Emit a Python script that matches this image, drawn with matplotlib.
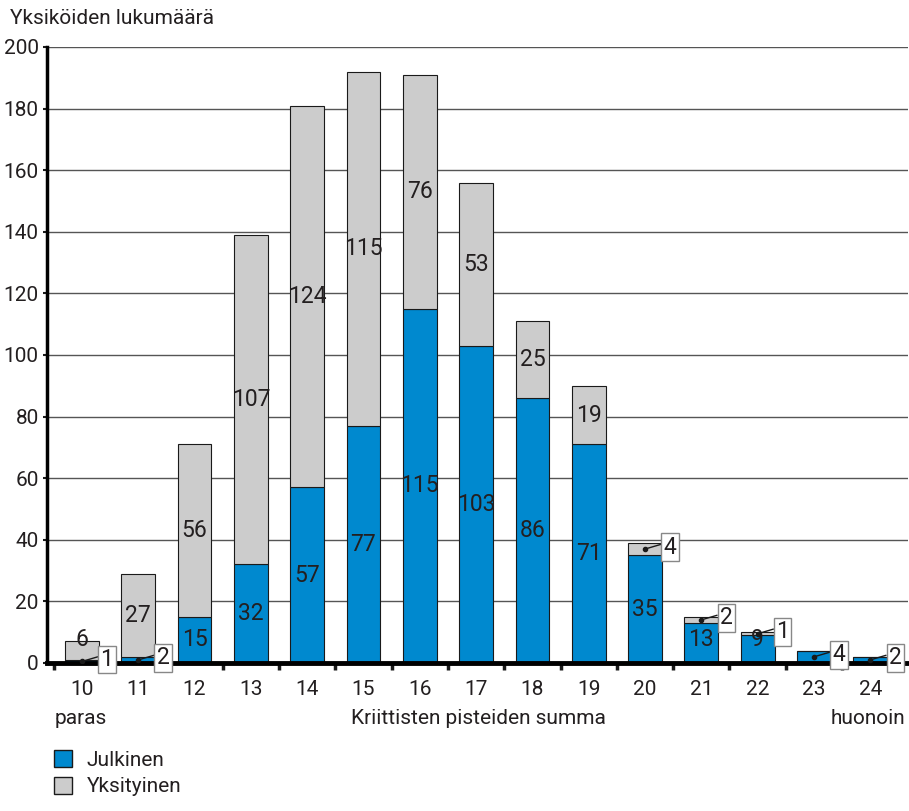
import matplotlib
matplotlib.use("Agg")
import matplotlib.pyplot as plt
from matplotlib.patches import Patch

plt.rcParams['font.family'] = ['Roboto', 'DejaVu Sans']

# Data
scores = ['10', '11', '12', '13', '14', '15', '16', '17', '18', '19', '20', '21', '22', '23', '24']
julkinen = [1, 2, 15, 32, 57, 77, 115, 103, 86, 71, 35, 13, 9, 4, 2]
yksityinen = [6, 27, 56, 107, 124, 115, 76, 53, 25, 19, 4, 2, 1, 0, 0]
y_ticks = [0, 20, 40, 60, 80, 100, 120, 140, 160, 180, 200]

BLUE = '#0089cf'
GRAY = '#cccccc'
TXT = '#231f20'
FS = 15

W, H = 909, 811
fig = plt.figure(figsize=(W / 100, H / 100), dpi=100)
ax = fig.add_axes([47 / W, 148 / H, 861 / W, 616 / H])

x = list(range(len(scores)))
bw = 0.6
ax.bar(x, julkinen, width=bw, color=BLUE, edgecolor='#1a1a1a', linewidth=0.8, zorder=3)
ax.bar(x, yksityinen, width=bw, bottom=julkinen, color=GRAY, edgecolor='#1a1a1a',
       linewidth=0.8, zorder=3)

ax.set_xlim(-0.62, 14.67)
ax.set_ylim(0, 200)
ax.set_yticks(y_ticks)
ax.set_yticklabels([str(v) for v in y_ticks], fontsize=FS, color=TXT)
ax.set_xticks([i - 0.5 for i in range(len(scores) + 1)])
ax.set_xticklabels([])
ax.set_xticks(x, minor=True)
ax.set_xticklabels(scores, minor=True, fontsize=FS, color=TXT)
ax.tick_params(axis='x', which='major', length=5, width=2.5, color='#1a1a1a', direction='out')
ax.tick_params(axis='x', which='minor', length=0, pad=12)
ax.tick_params(axis='y', length=3, width=1.5, pad=3, color='#1a1a1a')

for s in ['top', 'right']:
    ax.spines[s].set_visible(False)
ax.spines['left'].set_linewidth(2.5)
ax.spines['bottom'].set_linewidth(3.5)
ax.spines['left'].set_zorder(5)
ax.spines['bottom'].set_zorder(5)
ax.yaxis.grid(True, color='#555555', linewidth=1.0, zorder=0)
ax.set_axisbelow(True)


def seg_label(xi, lo, val, top):
    yc = max(lo + val / 2, 7.5)
    ax.text(xi, yc, str(val), ha='center', va='center', fontsize=FS + 1.5, color=TXT, zorder=6)


def callout(xi, yc, val):
    ax.plot([xi], [yc], 'o', color='#1a1a1a', markersize=3, zorder=7)
    ax.annotate(str(val), xy=(xi, yc), xytext=(25, 2), textcoords='offset pixels',
                ha='center', va='center', fontsize=FS + 1.5, color=TXT, zorder=7,
                bbox=dict(boxstyle='square,pad=0.1', fc='white', ec='#888888', lw=1),
                arrowprops=dict(arrowstyle='-', color='#1a1a1a', lw=1,
                                relpos=(0.0, 0.65), shrinkA=0, shrinkB=0))


for i in x:
    j, p = julkinen[i], yksityinen[i]
    top = j + p
    # public segment
    if j >= 9:
        seg_label(i, 0, j, top)
    elif j > 0:
        callout(i, j / 2, j)
    # private segment
    if p >= 6:
        seg_label(i, j, p, top)
    elif p > 0:
        callout(i, j + p / 2, p)

fig.text(10 / W, 1 - 18 / H, 'Yksiköiden lukumäärä', fontsize=FS, color=TXT,
         ha='left', va='center')
fig.text(55 / W, 1 - 718 / H, 'paras', fontsize=FS, color=TXT, ha='left', va='center')
fig.text(478 / W, 1 - 718 / H, 'Kriittisten pisteiden summa', fontsize=FS, color=TXT,
         ha='center', va='center')
fig.text(905 / W, 1 - 718 / H, 'huonoin', fontsize=FS, color=TXT, ha='right', va='center')

handles = [Patch(facecolor=BLUE, edgecolor='#1a1a1a', linewidth=1, label='Julkinen'),
           Patch(facecolor=GRAY, edgecolor='#1a1a1a', linewidth=1, label='Yksityinen')]
fig.legend(handles=handles, loc='upper left', bbox_to_anchor=(50 / W, 1 - 746 / H),
           frameon=False, fontsize=FS, handlelength=0.85, handleheight=0.85,
           handletextpad=0.7, labelspacing=0.35, borderaxespad=0, borderpad=0.2,
           labelcolor=TXT)

fig.savefig('out.png', dpi=100)
